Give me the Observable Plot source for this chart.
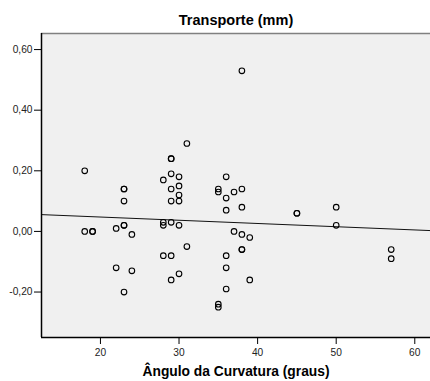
<!DOCTYPE html>
<html>
<head>
<meta charset="utf-8">
<script src="https://cdn.jsdelivr.net/npm/d3@7"></script>
<script src="https://cdn.jsdelivr.net/npm/@observablehq/plot@0.6"></script>
<style>
  html, body { margin: 0; padding: 0; background: #fff; }
  #chart svg { display: block; }
</style>
</head>
<body>
<div id="chart"></div>
<script>
// Scatter of transport (mm) against curvature angle (degrees)
const angle = [
  18, 18,
  19, 19,
  22, 22,
  23, 23, 23, 23, 23, 23,
  24, 24,
  28, 28, 28, 28,
  29, 29, 29, 29, 29, 29, 29, 29,
  30, 30, 30, 30, 30, 30,
  31, 31,
  35, 35, 35, 35,
  36, 36, 36, 36, 36, 36,
  37, 37,
  38, 38, 38, 38, 38, 38,
  39, 39,
  45, 45,
  50, 50,
  57, 57
];
const transporte = [
  0.20, 0.00,
  0.00, 0.00,
  0.01, -0.12,
  0.14, 0.14, 0.10, 0.02, 0.02, -0.20,
  -0.01, -0.13,
  0.17, 0.03, 0.02, -0.08,
  0.24, 0.24, 0.19, 0.14, 0.10, 0.03, -0.08, -0.16,
  0.18, 0.15, 0.12, 0.10, 0.02, -0.14,
  0.29, -0.05,
  0.14, 0.13, -0.24, -0.25,
  0.18, 0.11, 0.07, -0.08, -0.12, -0.19,
  0.13, 0.00,
  0.53, 0.14, 0.08, -0.01, -0.06, -0.06,
  -0.02, -0.16,
  0.06, 0.06,
  0.08, 0.02,
  -0.06, -0.09
];
const xTicks = [20, 30, 40, 50, 60];
const yTicks = [-0.20, 0.00, 0.20, 0.40, 0.60];
const xDomain = [12.5, 62.0];
const yDomain = [-0.35, 0.653];
const title = "Transporte (mm)";
const xLabel = "Ângulo da Curvatura (graus)";

const points = angle.map((a, i) => ({x: a, y: transporte[i]}));

// Ordinary least-squares fit, drawn across the whole x range
const mx = d3.mean(angle), my = d3.mean(transporte);
const sxy = d3.sum(points, p => (p.x - mx) * (p.y - my));
const sxx = d3.sum(points, p => (p.x - mx) ** 2);
const slope = sxy / sxx;
const intercept = my - slope * mx;
const fit = xDomain.map(x => ({x, y: intercept + slope * x}));

const comma = d => d.toFixed(2).replace(".", ",");

const chart = Plot.plot({
  width: 430,
  height: 381,
  marginTop: 33,
  marginLeft: 41,
  marginRight: 0,
  marginBottom: 44,
  style: {fontFamily: "'Liberation Sans', Arial, sans-serif", background: "#fff"},
  x: {domain: xDomain},
  y: {domain: yDomain},
  marks: [
    Plot.frame({fill: "#f0f0f0", stroke: null}),
    Plot.line(fit, {x: "x", y: "y", stroke: "#111", strokeWidth: 1}),
    Plot.dot(points, {x: "x", y: "y", r: 2.8, stroke: "#000", strokeWidth: 1.1, fill: "none"}),
    // top, left and bottom borders of the plot area
    Plot.ruleY([yDomain[1]], {stroke: "#808080", strokeWidth: 1.5}),
    Plot.ruleX([xDomain[0]], {stroke: "#000", strokeWidth: 1.5}),
    Plot.ruleY([yDomain[0]], {stroke: "#000", strokeWidth: 1.5}),
    Plot.axisY({ticks: yTicks, tickFormat: comma, tickSize: 7, tickPadding: 2,
      fontSize: 10.2, fill: "#222", stroke: "#000", label: null}),
    Plot.axisX({ticks: xTicks, tickFormat: d => String(d), tickSize: 7, tickPadding: 4,
      fontSize: 10.2, fill: "#222", stroke: "#000", label: null}),
    Plot.text([title], {frameAnchor: "top", dy: -9, text: d => d,
      fontSize: 14.5, fontWeight: "bold", fill: "#000", lineAnchor: "bottom"}),
    Plot.text([xLabel], {frameAnchor: "bottom", dy: 38, text: d => d,
      fontSize: 13.8, fontWeight: "bold", fill: "#000", lineAnchor: "bottom"})
  ]
});
document.getElementById("chart").appendChild(chart);
</script>
</body>
</html>
